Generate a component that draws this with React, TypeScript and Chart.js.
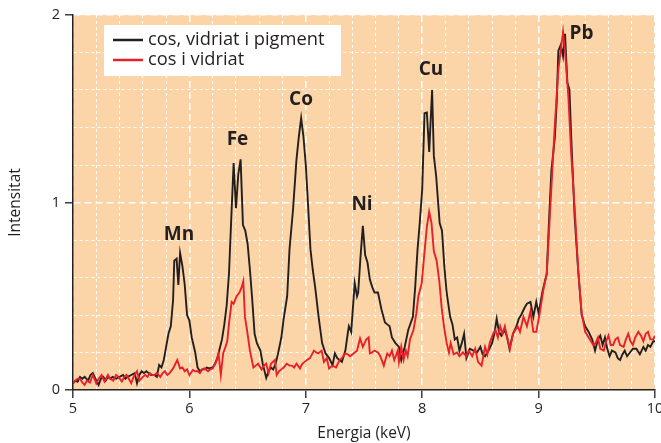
import React, { useEffect, useRef } from "react";
import { Chart, registerables } from "chart.js";

Chart.register(...registerables);

// ---- data ----
const blackEnergy = [
  5.0, 5.02, 5.04, 5.06, 5.08, 5.1, 5.13, 5.15, 5.17, 5.2, 5.22, 5.24, 5.26, 5.28, 5.3, 5.32, 5.34, 5.37, 5.4, 5.43,
  5.45, 5.47, 5.5, 5.53, 5.55, 5.57, 5.59, 5.61, 5.63, 5.65, 5.67, 5.7, 5.72, 5.74, 5.76, 5.78, 5.8, 5.82, 5.84, 5.86,
  5.87, 5.89, 5.905, 5.92, 5.94, 5.96, 5.98, 6.0, 6.02, 6.05, 6.07, 6.09, 6.11, 6.13, 6.15, 6.17, 6.2, 6.22, 6.24, 6.26,
  6.28, 6.3, 6.32, 6.34, 6.36, 6.38, 6.4, 6.42, 6.44, 6.46, 6.48, 6.5, 6.52, 6.54, 6.56, 6.58, 6.61, 6.63, 6.66, 6.68,
  6.7, 6.72, 6.74, 6.76, 6.79, 6.81, 6.84, 6.86, 6.89, 6.92, 6.94, 6.96, 6.98, 7.0, 7.02, 7.04, 7.06, 7.08, 7.11, 7.14,
  7.17, 7.2, 7.23, 7.25, 7.27, 7.29, 7.31, 7.34, 7.36, 7.37, 7.39, 7.42, 7.44, 7.45, 7.47, 7.49, 7.51, 7.53, 7.55, 7.57,
  7.59, 7.62, 7.65, 7.68, 7.7, 7.72, 7.74, 7.77, 7.8, 7.82, 7.85, 7.88, 7.92, 7.94, 7.96, 7.98, 8.0, 8.02, 8.04, 8.06,
  8.085, 8.1, 8.12, 8.15, 8.17, 8.19, 8.21, 8.24, 8.26, 8.28, 8.3, 8.32, 8.34, 8.36, 8.38, 8.41, 8.44, 8.47, 8.5, 8.52,
  8.54, 8.57, 8.6, 8.62, 8.64, 8.66, 8.68, 8.71, 8.73, 8.75, 8.78, 8.81, 8.83, 8.85, 8.88, 8.9, 8.93, 8.955, 8.98, 9.0,
  9.035, 9.07, 9.09, 9.11, 9.14, 9.155, 9.17, 9.19, 9.21, 9.227, 9.247, 9.265, 9.28, 9.31, 9.34, 9.37, 9.4, 9.43, 9.46, 9.485,
  9.51, 9.53, 9.55, 9.57, 9.59, 9.61, 9.63, 9.66, 9.68, 9.7, 9.72, 9.74, 9.76, 9.785, 9.81, 9.84, 9.87, 9.9, 9.92, 9.94,
  9.96, 9.985, 10.0,
];
const blackIntensity = [
  0.035, 0.05, 0.044, 0.07, 0.06, 0.07, 0.05, 0.08, 0.09, 0.05, 0.027, 0.06, 0.07, 0.05, 0.07, 0.06, 0.07, 0.06, 0.07, 0.08,
  0.06, 0.07, 0.08, 0.09, 0.035, 0.08, 0.1, 0.09, 0.1, 0.09, 0.08, 0.08, 0.07, 0.133, 0.12, 0.16, 0.23, 0.3, 0.34, 0.48,
  0.69, 0.7, 0.56, 0.73, 0.66, 0.56, 0.4, 0.37, 0.28, 0.2, 0.12, 0.1, 0.11, 0.11, 0.12, 0.115, 0.12, 0.14, 0.17, 0.22,
  0.27, 0.35, 0.45, 0.62, 0.92, 1.21, 0.97, 1.15, 1.23, 0.88, 0.85, 0.78, 0.64, 0.48, 0.3, 0.25, 0.21, 0.14, 0.064, 0.1,
  0.12, 0.11, 0.14, 0.19, 0.28, 0.38, 0.5, 0.75, 0.96, 1.23, 1.35, 1.45, 1.35, 1.2, 0.98, 0.75, 0.64, 0.55, 0.39, 0.25,
  0.195, 0.17, 0.133, 0.195, 0.17, 0.16, 0.15, 0.21, 0.3, 0.34, 0.31, 0.57, 0.5, 0.52, 0.71, 0.875, 0.72, 0.68, 0.59, 0.55,
  0.52, 0.52, 0.43, 0.36, 0.35, 0.34, 0.28, 0.25, 0.23, 0.16, 0.23, 0.32, 0.39, 0.55, 0.75, 0.9, 1.07, 1.476, 1.48, 1.27,
  1.6, 1.25, 1.14, 0.89, 0.85, 0.66, 0.52, 0.39, 0.35, 0.27, 0.28, 0.21, 0.25, 0.3, 0.17, 0.22, 0.21, 0.2, 0.23, 0.19,
  0.18, 0.21, 0.25, 0.3, 0.38, 0.31, 0.29, 0.32, 0.28, 0.22, 0.3, 0.34, 0.38, 0.4, 0.44, 0.46, 0.47, 0.39, 0.47, 0.41,
  0.53, 0.62, 0.91, 1.17, 1.35, 1.53, 1.81, 1.84, 1.78, 1.9, 1.64, 1.6, 1.35, 0.92, 0.64, 0.4, 0.34, 0.31, 0.27, 0.21,
  0.27, 0.29, 0.24, 0.28, 0.22, 0.18, 0.21, 0.2, 0.17, 0.16, 0.19, 0.21, 0.18, 0.2, 0.22, 0.22, 0.19, 0.23, 0.21, 0.24,
  0.23, 0.26, 0.26,
];
const redEnergy = [
  5.0, 5.02, 5.04, 5.06, 5.08, 5.1, 5.12, 5.146, 5.17, 5.2, 5.22, 5.246, 5.27, 5.3, 5.32, 5.346, 5.37, 5.39, 5.42, 5.44,
  5.46, 5.48, 5.5, 5.52, 5.55, 5.57, 5.6, 5.62, 5.64, 5.66, 5.68, 5.7, 5.72, 5.75, 5.77, 5.79, 5.81, 5.83, 5.86, 5.88,
  5.896, 5.92, 5.94, 5.96, 5.98, 6.0, 6.03, 6.05, 6.07, 6.09, 6.11, 6.13, 6.16, 6.18, 6.2, 6.23, 6.25, 6.27, 6.29, 6.31,
  6.325, 6.343, 6.363, 6.38, 6.406, 6.43, 6.45, 6.463, 6.477, 6.495, 6.52, 6.55, 6.57, 6.59, 6.62, 6.64, 6.66, 6.68, 6.7, 6.735,
  6.75, 6.77, 6.79, 6.81, 6.836, 6.86, 6.88, 6.9, 6.92, 6.95, 6.97, 6.99, 7.01, 7.036, 7.07, 7.09, 7.107, 7.136, 7.156, 7.18,
  7.2, 7.23, 7.26, 7.29, 7.31, 7.34, 7.36, 7.38, 7.41, 7.44, 7.466, 7.49, 7.52, 7.54, 7.55, 7.57, 7.59, 7.62, 7.64, 7.67,
  7.7, 7.72, 7.74, 7.76, 7.79, 7.8, 7.82, 7.84, 7.86, 7.875, 7.895, 7.925, 7.95, 7.967, 7.996, 8.016, 8.04, 8.06, 8.08, 8.1,
  8.124, 8.147, 8.167, 8.187, 8.21, 8.23, 8.245, 8.27, 8.3, 8.32, 8.35, 8.38, 8.4, 8.43, 8.455, 8.48, 8.51, 8.54, 8.56, 8.58,
  8.61, 8.63, 8.65, 8.67, 8.69, 8.71, 8.73, 8.754, 8.78, 8.8, 8.82, 8.84, 8.87, 8.9, 8.93, 8.955, 8.98, 9.01, 9.04, 9.07,
  9.09, 9.11, 9.14, 9.17, 9.19, 9.21, 9.227, 9.256, 9.28, 9.313, 9.34, 9.37, 9.4, 9.43, 9.45, 9.47, 9.49, 9.51, 9.53, 9.56,
  9.58, 9.6, 9.62, 9.64, 9.66, 9.68, 9.7, 9.73, 9.75, 9.77, 9.79, 9.81, 9.83, 9.857, 9.88, 9.9, 9.92, 9.94, 9.96, 9.985,
  10.0,
];
const redIntensity = [
  0.035, 0.05, 0.06, 0.06, 0.04, 0.027, 0.05, 0.04, 0.08, 0.035, 0.06, 0.08, 0.045, 0.08, 0.06, 0.05, 0.08, 0.07, 0.045, 0.07,
  0.08, 0.06, 0.036, 0.07, 0.1, 0.05, 0.07, 0.08, 0.07, 0.09, 0.08, 0.08, 0.09, 0.07, 0.09, 0.1, 0.08, 0.09, 0.115, 0.14,
  0.16, 0.115, 0.12, 0.1, 0.11, 0.08, 0.107, 0.1, 0.1, 0.09, 0.11, 0.115, 0.1, 0.11, 0.115, 0.15, 0.195, 0.08, 0.195, 0.23,
  0.26, 0.37, 0.47, 0.46, 0.5, 0.52, 0.55, 0.58, 0.39, 0.32, 0.21, 0.12, 0.13, 0.14, 0.11, 0.13, 0.14, 0.09, 0.14, 0.16,
  0.08, 0.1, 0.11, 0.12, 0.14, 0.13, 0.13, 0.12, 0.14, 0.115, 0.14, 0.15, 0.16, 0.17, 0.21, 0.2, 0.195, 0.21, 0.15, 0.17,
  0.115, 0.13, 0.12, 0.16, 0.17, 0.195, 0.19, 0.18, 0.195, 0.21, 0.275, 0.23, 0.27, 0.28, 0.195, 0.2, 0.21, 0.2, 0.18, 0.13,
  0.195, 0.18, 0.21, 0.16, 0.21, 0.15, 0.23, 0.16, 0.21, 0.18, 0.27, 0.32, 0.41, 0.5, 0.57, 0.71, 0.87, 0.95, 0.89, 0.74,
  0.69, 0.58, 0.44, 0.34, 0.25, 0.2, 0.25, 0.19, 0.2, 0.18, 0.2, 0.18, 0.21, 0.18, 0.22, 0.15, 0.13, 0.23, 0.19, 0.25,
  0.3, 0.32, 0.28, 0.34, 0.3, 0.34, 0.28, 0.22, 0.3, 0.32, 0.34, 0.31, 0.39, 0.34, 0.42, 0.31, 0.31, 0.41, 0.53, 0.62,
  0.85, 1.08, 1.42, 1.71, 1.81, 1.91, 1.81, 1.56, 1.26, 0.94, 0.64, 0.41, 0.31, 0.28, 0.26, 0.24, 0.25, 0.28, 0.22, 0.21,
  0.26, 0.29, 0.24, 0.24, 0.27, 0.28, 0.24, 0.23, 0.27, 0.3, 0.26, 0.24, 0.28, 0.31, 0.29, 0.26, 0.3, 0.31, 0.27, 0.27,
  0.29,
];
const seriesLabels = ["cos, vidriat i pigment", "cos i vidriat"];
const seriesColors = ["#231f20", "#e8202a"];
const peakNames = ["Mn", "Fe", "Co", "Ni", "Cu", "Pb"];
const peakEnergy = [5.91, 6.413, 6.959, 7.483, 8.076, 9.369];
const peakHeight = [0.827, 1.333, 1.547, 0.987, 1.707, 1.899];
const xRange = [5, 10];
const yRange = [0, 2];
const minorStep = 0.2;
const xTitle = "Energia (keV)";
const yTitle = "Intensitat";

const FONT = "'Open Sans', sans-serif";
const TEXT = "#231f20";
const isInt = (v: number) => Math.abs(v - Math.round(v)) < 1e-6;

const bgPlugin = {
  id: "plotBg",
  beforeDraw(chart: any) {
    const { ctx, chartArea: a } = chart;
    ctx.save();
    ctx.fillStyle = "#fbd5a8";
    ctx.fillRect(a.left, a.top, a.right - a.left, a.bottom - a.top);
    ctx.restore();
  },
};

const overlayPlugin = {
  id: "overlay",
  afterDatasetsDraw(chart: any) {
    const { ctx, chartArea: a, scales } = chart;
    const xs = scales.x;
    const ys = scales.y;
    ctx.save();
    // peak labels
    ctx.fillStyle = TEXT;
    ctx.font = `bold 19px ${FONT}`;
    ctx.textAlign = "center";
    ctx.textBaseline = "middle";
    peakNames.forEach((n, i) => {
      ctx.fillText(n, xs.getPixelForValue(peakEnergy[i]), ys.getPixelForValue(peakHeight[i]));
    });
    // legend
    const lx = a.left + 31;
    const ly = a.top + 10;
    ctx.fillStyle = "#ffffff";
    ctx.fillRect(lx, ly, 237, 51);
    ctx.font = `18.3px ${FONT}`;
    ctx.textAlign = "left";
    seriesLabels.forEach((lab, i) => {
      const cy = ly + 15 + i * 20;
      ctx.strokeStyle = seriesColors[i];
      ctx.lineWidth = 2.5;
      ctx.beginPath();
      ctx.moveTo(lx + 9, cy);
      ctx.lineTo(lx + 39, cy);
      ctx.stroke();
      ctx.fillStyle = TEXT;
      ctx.fillText(lab, lx + 44, cy);
    });
    ctx.restore();
  },
};

function gridOpts() {
  return {
    color: "rgba(255,255,255,0.95)",
    lineWidth: (c: any) => (c.tick && isInt(c.tick.value) ? 1.6 : 1),
    tickColor: (c: any) => (c.tick && isInt(c.tick.value) ? TEXT : "rgba(0,0,0,0)"),
    tickLength: 8,
    tickWidth: 1.3,
    tickBorderDash: [],
    drawTicks: true,
  };
}

function borderOpts() {
  return {
    display: true,
    color: TEXT,
    width: 1.5,
    dash: (c: any) => (c.tick ? (isInt(c.tick.value) ? [7, 4] : [3, 3]) : []),
  };
}

export default function App() {
  const ref = useRef<HTMLCanvasElement | null>(null);
  useEffect(() => {
    if (!ref.current) return;
    const blackPts = blackEnergy.map((e, i) => ({ x: e, y: blackIntensity[i] }));
    const redPts = redEnergy.map((e, i) => ({ x: e, y: redIntensity[i] }));
    const chart = new Chart(ref.current, {
      type: "line",
      data: {
        datasets: [
          {
            label: seriesLabels[0],
            data: blackPts,
            borderColor: seriesColors[0],
            borderWidth: 1.9,
            pointRadius: 0,
            tension: 0,
            order: 2,
          },
          {
            label: seriesLabels[1],
            data: redPts,
            borderColor: seriesColors[1],
            borderWidth: 1.9,
            pointRadius: 0,
            tension: 0,
            order: 1,
          },
        ],
      },
      options: {
        responsive: false,
        animation: false,
        events: [],
        layout: { padding: { top: 15, right: 6, left: 0, bottom: 0 } },
        plugins: { legend: { display: false }, tooltip: { enabled: false } },
        scales: {
          x: {
            type: "linear",
            min: xRange[0],
            max: xRange[1],
            ticks: {
              stepSize: minorStep,
              autoSkip: false,
              maxRotation: 0,
              padding: 2,
              color: TEXT,
              font: { family: FONT, size: 14.5 },
              callback: (v: any) => (isInt(Number(v)) ? String(Math.round(Number(v))) : ""),
            },
            grid: gridOpts(),
            border: borderOpts(),
            title: {
              display: true,
              text: xTitle,
              color: TEXT,
              font: { family: FONT, size: 15.5 },
              padding: { top: 0, bottom: 0 },
            },
            afterFit: (s: any) => {
              s.height = 53;
              s.paddingLeft = 0;
              s.paddingRight = 0;
            },
          },
          y: {
            type: "linear",
            min: yRange[0],
            max: yRange[1],
            ticks: {
              stepSize: minorStep,
              autoSkip: false,
              padding: 5,
              color: TEXT,
              font: { family: FONT, size: 14.5 },
              callback: (v: any) => (isInt(Number(v)) ? String(Math.round(Number(v))) : ""),
            },
            grid: gridOpts(),
            border: borderOpts(),
            title: {
              display: true,
              text: yTitle,
              color: TEXT,
              font: { family: FONT, size: 15.5 },
              padding: { top: 6, bottom: 0 },
            },
            afterFit: (s: any) => {
              s.width = 73;
              s.paddingTop = 0;
              s.paddingBottom = 0;
            },
          },
        },
      },
      plugins: [bgPlugin, overlayPlugin],
    } as any);
    return () => chart.destroy();
  }, []);

  return (
    <div style={{ position: "absolute", left: 0, top: 0, width: 661, height: 443, background: "#ffffff" }}>
      <canvas ref={ref} width={661} height={443} style={{ display: "block" }} />
    </div>
  );
}
